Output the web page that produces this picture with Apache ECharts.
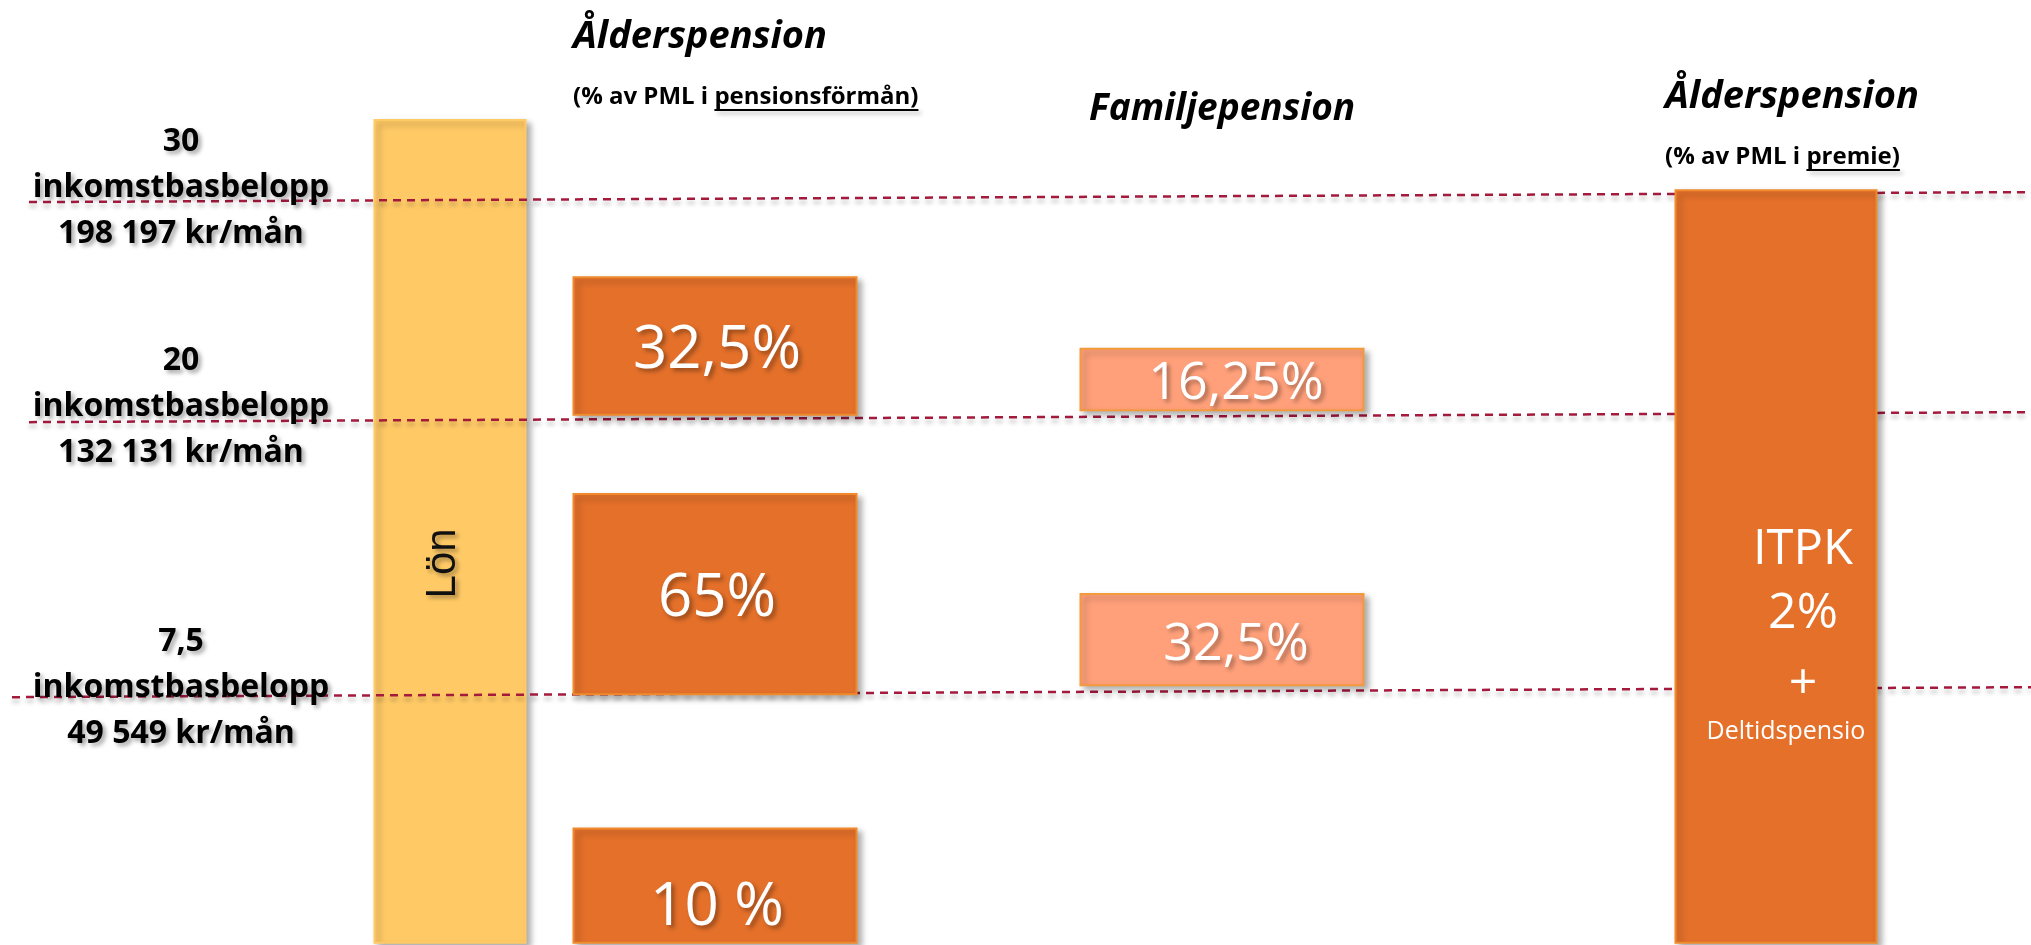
<!DOCTYPE html>
<html>
<head>
<meta charset="utf-8">
<title>ITP</title>
<script src="https://cdn.jsdelivr.net/npm/echarts@6/dist/echarts.min.js"></script>
<style>
  html, body { margin: 0; padding: 0; background: #fff; }
  #chart { width: 2031px; height: 945px; }
</style>
</head>
<body>
<div id="chart"></div>
<script>
// nivåer (inkomstbasbelopp) och belopp
const levels = [30, 20, 7.5];
const levelNames = ['30', '20', '7,5'];
const levelAmounts = ['198 197 kr/mån', '132 131 kr/mån', '49 549 kr/mån'];

// kolumner
const columns = ['Lön', 'Ålderspension', 'Familjepension', 'Ålderspension premie'];

// rutor: kolumn, från och till (inkomstbasbelopp, null = nederkant), text
const boxColumn = [0, 1, 1, 1, 2, 2, 3];
const boxFrom = [null, null, 7.5, 20.2, 7.9, 20.4, null];
const boxTo = [33.6, 1.4, 16.6, 26.45, 12.05, 23.2, 30.4];
const boxLabel = ['Lön', '10 %', '65%', '32,5%', '32,5%', '16,25%', 'ITPK\n2%\n+\nDeltidspension'];

// layout
const Y_MIN = -3.9, Y_MAX = 39.05;
const colCenter = [450, 715, 1222, 1776];
const colWidth = [151, 283, 283, 201];
const colFill = ['#FFCA66', '#E4702A', '#FFA07A', '#E4702A'];
const colBorder = ['#FFCA66', '#F08A2C', '#F29A3C', '#F08A2C'];
const lineStart = [29, 29, 12];
const labelDy = [-11, -12, -6];
const FONT = "'Open Sans', sans-serif";
const shadow = { textShadowColor: 'rgba(0,0,0,0.35)', textShadowBlur: 4, textShadowOffsetX: 3, textShadowOffsetY: 3 };

const chart = echarts.init(document.getElementById('chart'));

function boxItem(params, api) {
    const i = api.value(0);
    const c = boxColumn[i];
    const top = api.coord([colCenter[c], boxTo[i]]);
    const bot = api.coord([colCenter[c], boxFrom[i] == null ? Y_MIN + 0.1 : boxFrom[i]]);
    const w = api.size([colWidth[c], 0])[0];
    const x0 = top[0] - w / 2, cx = top[0], cy = (top[1] + bot[1]) / 2;
    const children = [{
        type: 'rect',
        shape: { x: x0, y: top[1], width: w, height: bot[1] - top[1] },
        style: {
            fill: colFill[c], stroke: colBorder[c], lineWidth: 2,
            shadowColor: 'rgba(0,0,0,0.3)', shadowBlur: 6, shadowOffsetX: 4, shadowOffsetY: 4
        }
    }];
    const txt = (text, x, y, size, extra) => ({
        type: 'text',
        style: Object.assign({
            text: text, x: x, y: y, fill: '#fff', font: size + 'px ' + FONT,
            textAlign: 'center', textVerticalAlign: 'middle'
        }, extra || {})
    });
    if (c === 0) {
        children.push({
            type: 'text', x: cx - 7, y: cy + 32, rotation: Math.PI / 2,
            style: Object.assign({
                text: boxLabel[i], fill: '#111', font: '42px "Liberation Sans", sans-serif',
                textAlign: 'center', textVerticalAlign: 'middle'
            }, shadow)
        });
    } else if (c === 3) {
        const parts = boxLabel[i].split('\n');
        children.push(txt(parts[0], cx + 27, top[1] + 360, 49));
        children.push(txt(parts[1], cx + 27, top[1] + 423, 50));
        children.push(txt(parts[2], cx + 27, top[1] + 494, 50));
        children.push(txt(parts[3], x0 + 31, top[1] + 542, 25, {
            textAlign: 'left', width: w - 29, overflow: 'truncate', ellipsis: ''
        }));
    } else {
        const dx = c === 2 ? 14 : 2;
        const dy = boxLabel[i] === '10 %' ? 22 : 5;
        const size = c === 2 ? 52 : 60;
        children.push(txt(boxLabel[i], cx + dx, cy + dy, size, shadow));
    }
    return { type: 'group', children: children };
}

function lineItem(params, api) {
    const i = api.value(0);
    const a = api.coord([lineStart[i], levels[i]]);
    const b = api.coord([2031, levels[i]]);
    return {
        type: 'line',
        shape: { x1: a[0], y1: a[1] + 3, x2: b[0], y2: b[1] - 7 },
        style: {
            stroke: '#A31A3D', lineWidth: 2.5, lineDash: [8, 6],
            shadowColor: 'rgba(0,0,0,0.25)', shadowBlur: 4, shadowOffsetY: 4
        }
    };
}

function levelLabelItem(params, api) {
    const i = api.value(0);
    const p = api.coord([181, levels[i]]);
    return {
        type: 'text',
        style: Object.assign({
            text: levelNames[i] + '\ninkomstbasbelopp\n' + levelAmounts[i],
            x: p[0], y: p[1] + labelDy[i], fill: '#000', font: 'bold 32px ' + FONT,
            lineHeight: 46, textAlign: 'center', textVerticalAlign: 'middle'
        }, shadow)
    };
}

const idx = (arr) => arr.map((_, i) => [i]);
const lonIdx = [[0]];
const otherIdx = idx(boxColumn).filter(d => boxColumn[d[0]] !== 0);

// rubriker, understrykning mäts med canvas
const ctx = document.createElement('canvas').getContext('2d');
const titleShadow = { shadowColor: 'rgba(0,0,0,0.3)', shadowBlur: 4, shadowOffsetX: 3, shadowOffsetY: 3 };
function title(text, x, y, font) {
    return {
        type: 'text', z: 100,
        style: Object.assign({ text: text, x: x, y: y, fill: '#000', font: font + FONT, textVerticalAlign: 'middle' }, titleShadow)
    };
}
function subtitle(pre, under, x, y) {
    const font = 'bold 24px ' + FONT;
    ctx.font = font;
    const x1 = x + ctx.measureText(pre).width;
    const x2 = x + ctx.measureText(pre + under).width;
    return [
        title(pre + under, x, y, 'bold 24px '),
        { type: 'line', z: 100, shape: { x1: x1, y1: y + 13, x2: x2, y2: y + 13 },
          style: Object.assign({ stroke: '#000', lineWidth: 2 }, titleShadow) }
    ];
}

chart.setOption({
    animation: false,
    backgroundColor: '#fff',
    grid: { left: 0, right: 0, top: 0, bottom: 0 },
    xAxis: { type: 'value', min: 0, max: 2031, show: false },
    yAxis: { type: 'value', min: Y_MIN, max: Y_MAX, show: false },
    series: [
        { type: 'custom', name: columns[0], z: 1, renderItem: boxItem, data: lonIdx },
        { type: 'custom', name: 'nivåer', z: 2, renderItem: lineItem, data: idx(levels) },
        { type: 'custom', name: 'rutor', z: 3, renderItem: boxItem, data: otherIdx },
        { type: 'custom', name: 'etiketter', z: 4, renderItem: levelLabelItem, data: idx(levels) }
    ],
    graphic: [
        title('Ålderspension', 573, 37, 'italic bold 38px '),
        ...subtitle('(% av PML i ', 'pensionsförmån)', 573, 97),
        title('Familjepension', 1089, 109, 'italic bold 37px '),
        title('Ålderspension', 1665, 97, 'italic bold 38px '),
        ...subtitle('(% av PML i ', 'premie)', 1665, 157)
    ]
});
</script>
</body>
</html>
